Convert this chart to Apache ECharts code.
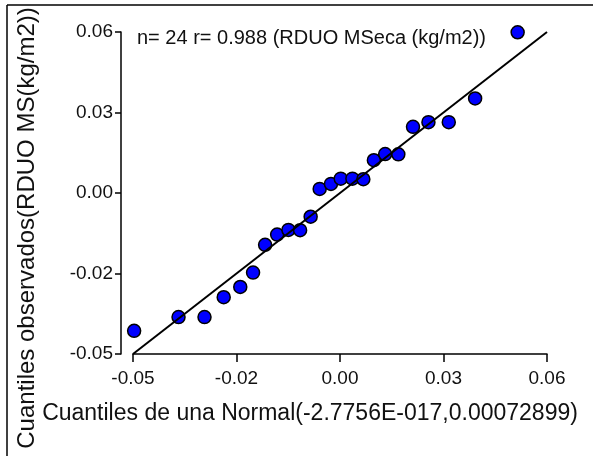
<!DOCTYPE html>
<html>
<head>
<meta charset="utf-8">
<script src="https://cdn.jsdelivr.net/npm/echarts@6/dist/echarts.min.js"></script>
<style>
  html, body { margin: 0; padding: 0; background: #fff; }
  #main { width: 593px; height: 456px; }
</style>
</head>
<body>
<div id="main"></div>
<script>
// cuantiles teoricos (normal) y observados
var normalQ = [-0.0497, -0.0379, -0.0310, -0.0259, -0.0215, -0.0181, -0.0149, -0.0117,
               -0.0087, -0.0056, -0.0028, -0.0004, 0.0026, 0.0052, 0.0083, 0.0112,
               0.0140, 0.0170, 0.0205, 0.0244, 0.0285, 0.0339, 0.0409, 0.0522];
var observedQ = [-0.0421, -0.0374, -0.0374, -0.0306, -0.0271, -0.0222, -0.0127, -0.0092,
                 -0.0076, -0.0077, -0.0031, 0.0064, 0.0081, 0.0099, 0.0099, 0.0097,
                 0.0162, 0.0183, 0.0182, 0.0276, 0.0292, 0.0292, 0.0373, 0.0599];
var refLine = [-0.05, 0.06];
var tickLabels = ['-0.05', '-0.02', '0.00', '0.03', '0.06'];
var axisMin = -0.05, axisMax = 0.06, axisStep = 0.0275;

var points = normalQ.map(function (x, i) { return [x, observedQ[i]]; });
var linePts = refLine.map(function (v) { return [v, v]; });

function tickFmt(v) {
  var i = Math.round((v - axisMin) / axisStep);
  return tickLabels[i] || '';
}

var font = 'Liberation Sans, Arial, sans-serif';
var myChart = echarts.init(document.getElementById('main'));

var option = {
  animation: false,
  grid: { left: 133, right: 46, top: 32, bottom: 102 },
  xAxis: {
    type: 'value', min: axisMin, max: axisMax, interval: axisStep,
    axisLine: { show: true, onZero: false, lineStyle: { color: '#000', width: 1.5 } },
    axisTick: { show: true, inside: false, length: 8, lineStyle: { color: '#000', width: 1.5 } },
    axisLabel: { formatter: tickFmt, color: '#111', fontSize: 19, fontFamily: font, margin: 15 },
    splitLine: { show: false }
  },
  yAxis: {
    type: 'value', min: axisMin, max: axisMax, interval: axisStep, offset: 12,
    axisLine: { show: true, onZero: false, lineStyle: { color: '#000', width: 1.5 } },
    axisTick: { show: true, inside: false, length: 6, lineStyle: { color: '#000', width: 1.5 } },
    axisLabel: { formatter: tickFmt, color: '#111', fontSize: 19, fontFamily: font, margin: 8 },
    splitLine: { show: false }
  },
  graphic: [
    { type: 'line', shape: { x1: 7, y1: 5, x2: 593, y2: 5 }, style: { stroke: '#000', lineWidth: 1.5 } },
    { type: 'line', shape: { x1: 7, y1: 5, x2: 7, y2: 456 }, style: { stroke: '#000', lineWidth: 1.5 } },
    { type: 'text', left: 137, top: 28,
      style: { text: 'n= 24 r= 0.988 (RDUO MSeca (kg/m2))', fill: '#111', font: '20px ' + font } },
    { type: 'text', x: 310, y: 414,
      style: { text: 'Cuantiles de una Normal(-2.7756E-017,0.00072899)', fill: '#111',
               font: '23px ' + font, align: 'center', verticalAlign: 'middle' } },
    { type: 'text', x: 27, y: 228, rotation: Math.PI / 2,
      style: { text: 'Cuantiles observados(RDUO MS(kg/m2))', fill: '#111',
               font: '24px ' + font, align: 'center', verticalAlign: 'middle' } }
  ],
  series: [
    {
      type: 'scatter', data: points, symbolSize: 13, z: 2,
      itemStyle: { color: '#0000ff', borderColor: '#000', borderWidth: 1.5, opacity: 1 }
    },
    {
      type: 'line', data: linePts, symbol: 'none', z: 3,
      lineStyle: { color: '#000', width: 2 }
    }
  ]
};
myChart.setOption(option);
</script>
</body>
</html>
